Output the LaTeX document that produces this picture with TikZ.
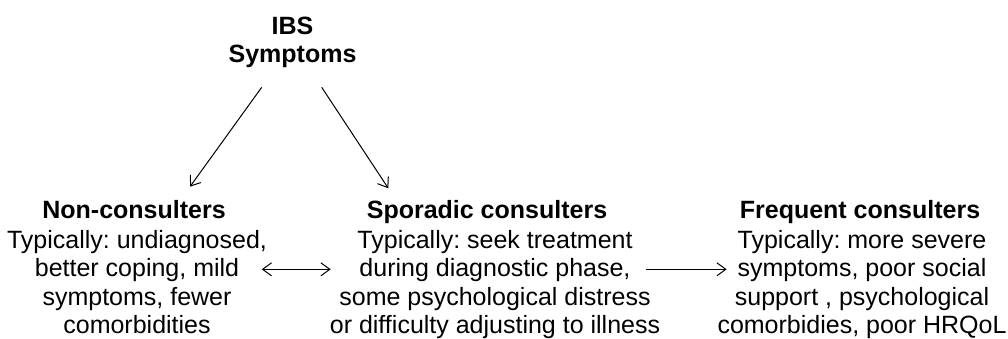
\documentclass[tikz,border=0pt]{standalone}
\usepackage{fontspec}
\setmainfont{Liberation Sans}
\usetikzlibrary{arrows.meta}
\frenchspacing
\begin{document}
\begin{tikzpicture}[x=1pt,y=-1pt,
  title/.style={font=\fontsize{25}{28}\selectfont\bfseries, align=center, inner sep=0pt, anchor=north},
  head/.style={font=\fontsize{25}{28}\selectfont\bfseries, inner sep=0pt, anchor=base},
  body/.style={font=\fontsize{25}{28.4}\selectfont, align=center, inner sep=0pt, anchor=north},
  link/.style={line width=1pt, -{Straight Barb[length=9pt,width=13pt]}},
  both/.style={line width=1pt, {Straight Barb[length=9pt,width=13pt]}-{Straight Barb[length=9pt,width=13pt]}},
]
\useasboundingbox (0,0) rectangle (1008,338);

% root
\node[title] (ibs) at (292.5,17) {IBS\\Symptoms};

% the three consulter groups
\node[head] (nonh) at (134,218) {Non-consulters};
\node[body] (nonb) at (137,230) {Typically: undiagnosed,\\better coping, mild\\symptoms, fewer\\comorbidities};

\node[head] (spoh) at (487,218) {Sporadic consulters};
\node[body] (spob) at (495,230) {Typically: seek treatment\\during diagnostic phase,\\some psychological distress\\or difficulty adjusting to illness};

\node[head] (freh) at (860,218) {Frequent consulters};
\node[body] (freb) at (862,230) {Typically: more severe\\symptoms, poor social\\support , psychological\\comorbidies, poor HRQoL};

% connector end points
\coordinate (ibsL) at (261.7,87.3);
\coordinate (ibsR) at (321.7,87.3);
\coordinate (nonT) at (190,186.7);
\coordinate (spoT) at (388.3,188.3);
\coordinate (nonE) at (261.7,269.3);
\coordinate (spoW) at (330.7,269.3);
\coordinate (spoE) at (646,269.3);
\coordinate (freW) at (726.7,269.3);

\draw[link] (ibsL) -- (nonT);
\draw[link] (ibsR) -- (spoT);
\draw[both] (nonE) -- (spoW);
\draw[link] (spoE) -- (freW);
\end{tikzpicture}
\end{document}
